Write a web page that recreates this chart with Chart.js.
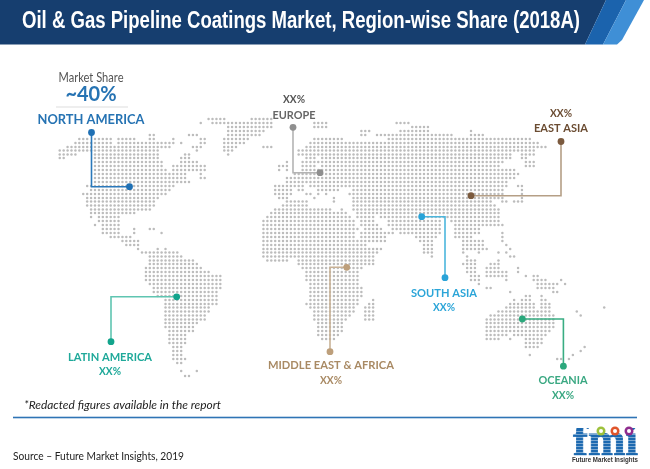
<!DOCTYPE html>
<html>
<head>
<meta charset="utf-8">
<title>Oil & Gas Pipeline Coatings Market</title>
<script src="https://cdn.jsdelivr.net/npm/chart.js@4"></script>
<style>
  html, body { margin: 0; padding: 0; background: #fff; }
  canvas { display: block; }
</style>
</head>
<body>
<canvas id="mapChart" width="650" height="469"></canvas>
<script>
// Text of the chart
const chartTitle = "Oil & Gas Pipeline Coatings Market, Region-wise Share (2018A)";
const regions = ["NORTH AMERICA", "EUROPE", "EAST ASIA", "SOUTH ASIA", "LATIN AMERICA", "MIDDLE EAST & AFRICA", "OCEANIA"];
const shares = ["~40%", "XX%", "XX%", "XX%", "XX%", "XX%", "XX%"];
const regionColors = ["#1f70b4", "#8f8f8f", "#7b5a3e", "#29a3d8", "#12a48c", "#bd9f7b", "#2ba87c"];
const lineColors = ["#2a78ba", "#b4b4b4", "#b59f86", "#4cb6dc", "#5fc5b1", "#c9b296", "#39ad83"];
const textColors = ["#2673b3", "#666666", "#6b4c32", "#2ba5d8", "#1fa99a", "#a98a64", "#3aa882"];

// Callout paths: [x, y] from the free end to the dot on the region
const northAmericaPath = [[91.5, 132.5], [91.5, 186.7], [129.5, 186.7]];
const europePath = [[293, 127.3], [293, 172.7], [320, 172.7]];
const eastAsiaPath = [[561, 141.5], [561, 195.7], [471, 195.7]];
const southAsiaPath = [[445, 277.7], [445, 216.7], [421.7, 216.7]];
const latinAmericaPath = [[111, 341.7], [111, 296.8], [176.7, 296.8]];
const middleEastPath = [[330, 351.7], [330, 267.3], [346.7, 267.3]];
const oceaniaPath = [[563.4, 366.2], [563.4, 319], [522.3, 319]];
const calloutPaths = [northAmericaPath, europePath, eastAsiaPath, southAsiaPath, latinAmericaPath, middleEastPath, oceaniaPath];

// Dot map, one row per line: y, then start and end x of each stretch of land
const dotRows = [
  [119, 208,223, 250,272],
  [123, 200,200, 212,272, 313,325, 398,407],
  [127, 227,272, 313,325, 413,427],
  [131, 227,263, 363,368, 400,427, 472,472],
  [135, 150,153, 188,197, 227,258, 363,367, 378,383, 390,450, 472,482],
  [139, 78,88, 95,112, 118,135, 148,155, 172,172, 200,205, 223,248, 315,342, 390,528],
  [143, 75,112, 118,135, 140,173, 180,180, 200,205, 223,243, 312,345, 350,535, 538,538],
  [147, 67,170, 192,200, 223,237, 262,272, 308,542, 546,546],
  [150.5, 60,157, 195,195, 223,232, 300,318, 323,535],
  [154.5, 60,77, 95,157, 185,188, 228,228, 300,318, 323,512, 522,535],
  [158, 60,65, 95,157, 182,190, 308,313, 323,510, 522,527],
  [162, 95,162, 180,198, 285,285, 303,317, 323,503, 527,532],
  [166, 95,162, 172,205, 278,282, 288,288, 303,315, 323,500, 527,532],
  [170, 95,167, 172,205, 278,278, 288,288, 303,513],
  [174, 95,187, 200,200, 293,517],
  [178, 95,187, 200,205, 288,513],
  [182, 95,190, 288,305, 312,508],
  [186, 87,175, 277,283, 288,303, 310,343, 347,508, 518,523],
  [190, 90,170, 277,290, 297,303, 317,337, 353,498, 503,503, 523,523],
  [194, 83,167, 275,292, 305,305, 312,312, 317,317, 328,328, 350,503, 522,522],
  [198, 87,158, 278,288, 313,313, 333,333, 353,502, 523,523],
  [201.5, 87,155, 288,307, 332,332, 352,492, 503,508, 515,523],
  [205.5, 87,152, 282,307, 352,493],
  [209.5, 90,148, 275,330, 340,340, 353,497],
  [213, 90,135, 273,347, 357,498],
  [217, 92,92, 98,118, 267,350, 357,372, 380,498],
  [221, 98,117, 262,353, 360,373, 387,438, 450,497],
  [225, 95,95, 103,117, 262,353, 363,377, 390,438, 455,502],
  [229, 103,117, 133,133, 150,155, 262,357, 367,380, 393,438, 455,480],
  [233, 103,120, 133,133, 162,162, 262,355, 360,392, 400,438, 455,478, 503,503],
  [237, 110,130, 262,355, 362,385, 417,435, 457,470, 503,503],
  [241, 122,138, 262,365, 370,383, 420,433, 465,482, 503,503],
  [245, 125,138, 262,365, 423,432, 463,482, 507,507],
  [249, 138,138, 158,158, 165,165, 262,380, 423,432, 463,485, 510,510],
  [252.6, 142,178, 265,378, 425,430, 463,463, 477,477, 500,500, 508,508],
  [256.5, 148,182, 265,375, 432,432, 468,468, 512,515],
  [260.5, 148,193, 268,287, 297,375, 468,473, 500,500],
  [264, 148,197, 297,372, 465,473, 490,500],
  [268, 145,202, 303,362, 467,473, 487,500, 518,518],
  [272, 145,210, 305,358, 468,473, 487,505, 518,518],
  [276, 145,220, 305,358, 472,477, 487,497, 503,508, 527,527, 533,538],
  [280, 145,220, 305,357, 472,477, 505,508, 533,547, 562,562],
  [284, 148,222, 312,357, 480,480, 538,552, 557,557, 565,565],
  [288, 152,220, 312,360, 487,492, 538,552],
  [292, 152,218, 312,360, 510,510, 553,558],
  [296, 157,218, 312,360, 527,530, 542,542],
  [300, 165,217, 312,358, 373,375, 515,515, 522,530, 542,547],
  [304, 165,217, 308,357, 370,375, 510,532, 542,548],
  [307.6, 165,208, 312,355, 367,375, 507,532, 542,548, 603,603],
  [311.5, 165,207, 313,352, 367,373, 498,550, 577,577],
  [315.5, 165,205, 315,348, 367,372, 490,555, 580,580],
  [319.4, 165,203, 315,347, 367,372, 487,555],
  [323, 165,197, 317,343, 487,555],
  [327, 167,193, 318,342, 487,553],
  [331, 168,192, 320,340, 487,550],
  [335, 168,187, 320,337, 487,508, 513,547],
  [339, 168,185, 322,335, 487,497, 510,510, 525,543],
  [343, 168,185, 525,540],
  [347, 172,182, 525,538, 585,585],
  [351, 172,182, 580,580],
  [355, 172,182, 530,530, 573,573],
  [359, 172,185, 558,562, 568,568],
  [363, 177,182],
  [371, 182,182, 196,196],
  [376, 185,190]
];

// every dot sits on the same picture grid
const gridStep = 3.917;
const gridStart = 0.99;
const mapDots = [];
dotRows.forEach(row => {
  for (let i = 1; i < row.length; i += 2) {
    const first = Math.round((row[i] - gridStart) / gridStep);
    const last = Math.round((row[i + 1] - gridStart) / gridStep);
    for (let c = first; c <= last; c++) {
      mapDots.push({ x: gridStart + c * gridStep, y: row[0] });
    }
  }
});

const calloutSets = calloutPaths.map((path, i) => ({
  label: regions[i],
  data: path.map(p => ({ x: p[0], y: p[1] })),
  showLine: true,
  borderColor: lineColors[i],
  borderWidth: 1.6,
  backgroundColor: regionColors[i],
  pointBackgroundColor: regionColors[i],
  pointBorderWidth: 0,
  pointRadius: [3.4, 0, 3.4]
}));

// Where each region's text goes: centre x, y of name, y of share, widths of both
const labelSpots = [
  [91, 119.5, 95, 107, 52], [294, 115, 99, 43, 22], [561, 128, 113, 54, 22], [444, 293, 307, 66, 22],
  [110, 357, 371, 84, 22], [331, 365, 380, 126, 22], [563, 380, 395, 49, 22]
];

function centred(ctx, text, x, y, font, color, width) {
  ctx.font = font;
  ctx.fillStyle = color;
  ctx.textAlign = "center";
  ctx.textBaseline = "middle";
  ctx.fillText(text, x, y, width);
}

function drawBanner(ctx) {
  const bands = [
    ["#163e6f", [[0, 0], [606, 0], [585, 44.5], [0, 44.5]]],
    ["#1b63ad", [[606, 0], [626, 0], [603, 44.5], [585, 44.5]]],
    ["#3f8fd6", [[626, 0], [644, 0], [622, 40], [617, 44.5], [603, 44.5]]]
  ];
  bands.forEach(([color, pts]) => {
    ctx.fillStyle = color;
    ctx.beginPath();
    pts.forEach((p, i) => i ? ctx.lineTo(p[0], p[1]) : ctx.moveTo(p[0], p[1]));
    ctx.closePath();
    ctx.fill();
  });
  ctx.font = "bold 23.5px 'Liberation Sans'";
  ctx.fillStyle = "#ffffff";
  ctx.textAlign = "left";
  ctx.textBaseline = "middle";
  ctx.fillText(chartTitle, 22, 21.5, 558);
}

function drawLogo(ctx) {
  ctx.save();
  ctx.beginPath();
  ctx.rect(570, 428, 72, 27.5);
  ctx.clip();
  ctx.font = "bold 46px 'Liberation Serif'";
  ctx.fillStyle = "#1c69b0";
  ctx.strokeStyle = "#1c69b0";
  ctx.lineWidth = 0.8;
  ctx.textAlign = "left";
  ctx.textBaseline = "alphabetic";
  ctx.fillText("fmi", 573, 455, 65);
  ctx.strokeText("fmi", 573, 455, 65);
  ctx.fillStyle = "rgba(255,255,255,0.6)";
  for (let y = 431; y < 456; y += 3) ctx.fillRect(570, y, 72, 0.7);
  ctx.restore();
  [["#9dc13b", 601], ["#e0552b", 615], ["#8e2c8e", 629]].forEach(([color, x]) => {
    ctx.fillStyle = color;
    ctx.beginPath();
    ctx.arc(x, 431, 4.5, 0, Math.PI * 2);
    ctx.fill();
    ctx.fillStyle = "#ffffff";
    ctx.beginPath();
    ctx.arc(x, 431, 2, 0, Math.PI * 2);
    ctx.fill();
  });
  ctx.font = "bold 7.5px 'Liberation Sans'";
  ctx.fillStyle = "#333333";
  ctx.textAlign = "left";
  ctx.textBaseline = "middle";
  ctx.fillText("Future Market Insights", 572, 460, 66);
}

const decorations = {
  id: "decorations",
  afterDraw(chart) {
    const ctx = chart.ctx;
    ctx.save();
    drawBanner(ctx);

    centred(ctx, "Market Share", 91, 78, "12.5px Lato", "#555555", 65);
    ctx.fillStyle = "#dddddd";
    ctx.fillRect(56, 106.5, 72, 1);

    regions.forEach((name, i) => {
      const [x, nameY, shareY, nameW, shareW] = labelSpots[i];
      centred(ctx, name, x, nameY, "bold " + (i === 0 ? 13 : 12) + "px Lato", textColors[i], nameW);
      const shareFont = i === 0 ? "bold 20px Lato" : "bold 12px Lato";
      centred(ctx, shares[i], x, shareY, shareFont, i === 1 ? "#555555" : textColors[i], shareW);
    });

    ctx.font = "italic 12px Lato";
    ctx.fillStyle = "#222222";
    ctx.textAlign = "left";
    ctx.textBaseline = "middle";
    ctx.fillText("*Redacted figures available in the report", 24, 405, 197);

    ctx.fillStyle = "#2f74b5";
    ctx.fillRect(13, 416.7, 624, 1.6);

    ctx.font = "11.5px Lato";
    ctx.fillStyle = "#222222";
    ctx.fillText("Source \u2013 Future Market Insights, 2019", 13, 456, 171);

    drawLogo(ctx);
    ctx.restore();
  }
};

new Chart(document.getElementById("mapChart"), {
  type: "scatter",
  data: {
    datasets: [
      ...calloutSets,
      { label: "Map", data: mapDots, pointRadius: 1.25, pointBorderWidth: 0, backgroundColor: "#bcbcbc", pointBackgroundColor: "#bcbcbc" }
    ]
  },
  options: {
    responsive: false,
    animation: false,
    layout: { padding: 0, autoPadding: false },
    plugins: { legend: { display: false }, tooltip: { enabled: false }, title: { display: false } },
    scales: {
      x: { type: "linear", display: false, min: 0, max: 650 },
      y: { type: "linear", display: false, min: 0, max: 469, reverse: true }
    }
  },
  plugins: [decorations]
});
</script>
</body>
</html>
